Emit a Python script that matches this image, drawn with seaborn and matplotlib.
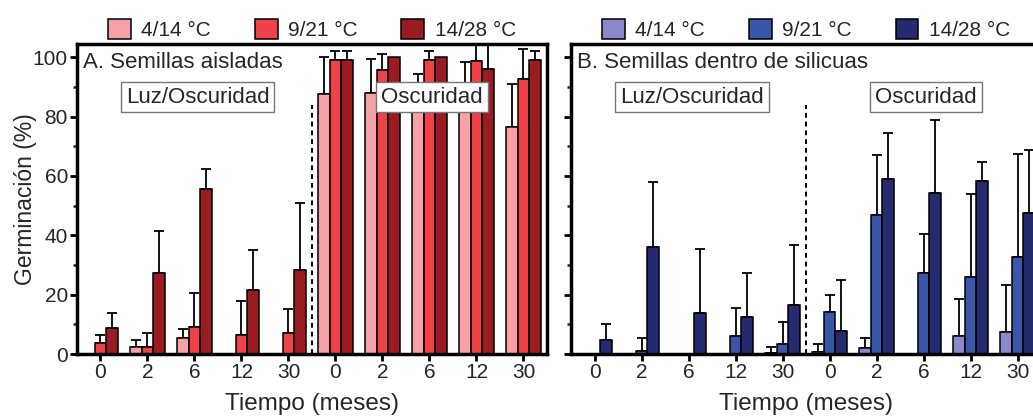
import numpy as np
import pandas as pd
import matplotlib
matplotlib.use('Agg')
import matplotlib.pyplot as plt
from matplotlib.patches import Patch
from matplotlib.ticker import MultipleLocator
import seaborn as sns

# Tiempo (meses): 5 under Luz/Oscuridad, then 5 under Oscuridad
tiempo = ['0', '2', '6', '12', '30', '0', '2', '6', '12', '30']
temps = ['4/14 °C', '9/21 °C', '14/28 °C']

# A. Semillas aisladas (mean, upper SD)
a_4_14 = [0, 2.5, 5.5, 0, 0, 87.5, 87.9, 86.0, 87.0, 76.6]
a_4_14_sd = [0, 2.2, 2.8, 0, 0, 12.6, 11.5, 8.5, 11.4, 14.4]
a_9_21 = [3.8, 2.5, 9.0, 6.3, 7.1, 99.2, 95.8, 99.2, 98.7, 92.6]
a_9_21_sd = [2.6, 4.7, 11.6, 11.6, 8.2, 2.9, 5.4, 2.9, 7.0, 10.3]
a_14_28 = [8.9, 27.4, 55.6, 21.5, 28.4, 99.2, 100, 100, 96.0, 99.2]
a_14_28_sd = [5.0, 14.0, 6.9, 13.4, 22.4, 2.9, 0, 0, 9.0, 2.9]

# B. Semillas dentro de silicuas
b_4_14 = [0, 0, 0, 0, 0.4, 0.7, 1.9, 0, 6.2, 7.3]
b_4_14_sd = [0, 0, 0, 0, 2.0, 2.6, 3.6, 0, 12.2, 15.8]
b_9_21 = [0, 1.1, 0, 6.1, 3.5, 14.0, 46.7, 27.2, 26.0, 32.6]
b_9_21_sd = [0, 4.4, 0, 9.3, 7.3, 5.9, 20.2, 13.4, 27.9, 34.7]
b_14_28 = [4.7, 35.9, 13.7, 12.6, 16.5, 7.7, 59.1, 54.3, 58.2, 47.4]
b_14_28_sd = [5.3, 22.0, 21.7, 14.6, 20.4, 17.4, 15.5, 24.7, 6.4, 21.5]

reds = ['#f6a0a7', '#ee4148', '#9b1b23']
blues = ['#8b89c9', '#3a56a8', '#262a6e']

sns.set_style('ticks')
plt.rcParams['font.family'] = ['Liberation Sans', 'DejaVu Sans']

fig = plt.figure(figsize=(10.33, 4.18), dpi=100)
ax_a = fig.add_axes([0.0745, 0.153, 0.455, 0.742])
ax_b = fig.add_axes([0.5528, 0.153, 0.455, 0.742])

keys = [('L' if i < 5 else 'O') + t for i, t in enumerate(tiempo)]


def panel(ax, means, sds, colors, title):
    df = pd.DataFrame({
        'pos': keys * 3,
        'temp': np.repeat(temps, len(keys)),
        'germ': np.concatenate(means),
    })
    sns.barplot(data=df, x='pos', y='germ', hue='temp', order=keys,
                hue_order=temps, palette=colors, saturation=1, width=0.75,
                edgecolor='black', linewidth=1.1, errorbar=None,
                legend=False, ax=ax, zorder=2)
    # one-sided error bars
    for cont, m, s in zip(ax.containers, means, sds):
        for bar, v, e in zip(cont, m, s):
            if e <= 0:
                continue
            xc = bar.get_x() + bar.get_width() / 2
            ax.errorbar(xc, v, yerr=[[0], [e]], fmt='none', ecolor='black',
                        elinewidth=1.3, capsize=3.5, capthick=1.3, zorder=1)

    ax.set_xlim(-0.5, 9.5)
    ax.set_ylim(0, 104.5)
    ax.set_xticks(range(10))
    ax.set_xticklabels(tiempo, fontsize=15)
    ax.yaxis.set_major_locator(MultipleLocator(20))
    ax.yaxis.set_minor_locator(MultipleLocator(10))
    ax.tick_params(axis='both', which='major', length=5, width=2, pad=1.5,
                   labelsize=15, color='black')
    ax.tick_params(axis='y', which='minor', length=3, width=1.8)
    for sp in ax.spines.values():
        sp.set_visible(True)
        sp.set_linewidth(2.5)
        sp.set_color('black')
    ax.set_xlabel('Tiempo (meses)', fontsize=17.5, labelpad=8)

    ax.plot([4.5, 4.5], [0, 84], ls=(0, (2.5, 2)), color='black', lw=1.4,
            zorder=3)
    ax.text(0.012, 0.975, title, transform=ax.transAxes, fontsize=16,
            ha='left', va='top', zorder=5)
    box = dict(boxstyle='square,pad=0.22', facecolor='white',
               edgecolor='#777777', linewidth=1)
    ax.text(2.07, 86.6, 'Luz/Oscuridad', fontsize=16, ha='center',
            va='center', bbox=box, zorder=6)
    ax.text(7.05, 86.6, 'Oscuridad', fontsize=16, ha='center', va='center',
            bbox=box, zorder=6)

    handles = [Patch(facecolor=c, edgecolor='black', linewidth=1.1)
               for c in colors]
    ax.legend(handles, temps, loc='lower center', bbox_to_anchor=(0.5, 0.985),
              ncol=3, frameon=False, fontsize=15, handlelength=1.1,
              handleheight=1.1, handletextpad=0.5, columnspacing=2.1,
              borderaxespad=0)


panel(ax_a, [a_4_14, a_9_21, a_14_28], [a_4_14_sd, a_9_21_sd, a_14_28_sd],
      reds, 'A. Semillas aisladas')
panel(ax_b, [b_4_14, b_9_21, b_14_28], [b_4_14_sd, b_9_21_sd, b_14_28_sd],
      blues, 'B. Semillas dentro de silicuas')

ax_a.set_ylabel('Germinación (%)', fontsize=16.5, labelpad=-3)
ax_b.set_ylabel('')
ax_b.set_yticklabels([])

fig.savefig('out.png', dpi=100)
